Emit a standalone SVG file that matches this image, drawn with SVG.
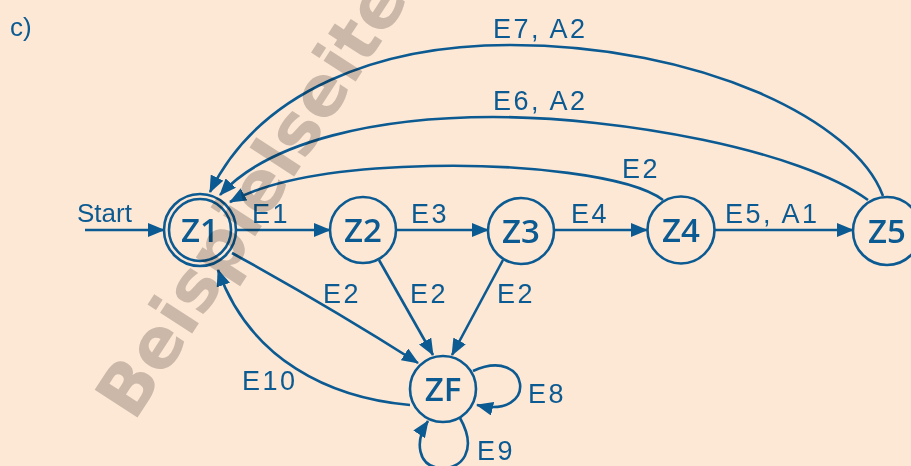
<svg xmlns="http://www.w3.org/2000/svg" width="911" height="466" viewBox="0 0 911 466">
  <defs>
    <marker id="arrow" markerUnits="userSpaceOnUse" markerWidth="18" markerHeight="14" refX="16" refY="7" orient="auto">
      <path d="M0,0 L17,7 L0,14 z" fill="#0b5a92"/>
    </marker>
    <style>
      .node { fill: none; stroke: #0b5a92; stroke-width: 2.6; }
      .nlabel { font-family: "Open Sans", "Liberation Sans", sans-serif; font-size: 33px; font-weight: 600; fill: #0b5a92; text-anchor: middle; }
      .elabel { font-family: "Liberation Sans", Arial, sans-serif; font-size: 27px; letter-spacing: 2.5px; fill: #0b5a92; }
      .plain { font-family: "Liberation Sans", Arial, sans-serif; font-size: 26px; fill: #0b5a92; }
      .edge { fill: none; stroke: #0b5a92; stroke-width: 2.6; marker-end: url(#arrow); }
      .mark { font-family: "DejaVu Sans", sans-serif; font-weight: bold; font-size: 70px; fill: #cecbc9; mix-blend-mode: multiply; }
    </style>
  </defs>

  <rect width="911" height="466" fill="#fde8d6"/>

  <text x="10" y="36" class="plain">c)</text>

  <!-- transitions -->
  <g id="edges">
    <path class="edge" d="M85,230 L164,230"/>
    <path class="edge" d="M237,230 L330,230"/>
    <path class="edge" d="M396,230 L488,230"/>
    <path class="edge" d="M554,230 L647,230"/>
    <path class="edge" d="M715,230 L853,230"/>
    <!-- into the failure state -->
    <path class="edge" d="M232,253 Q330,307 418,363"/>
    <path class="edge" d="M379,260 L433,355"/>
    <path class="edge" d="M503,260 L452,355"/>
    <!-- back to Z1 -->
    <path class="edge" d="M410,405 C330,398 250,360 218,270"/>
    <path class="edge" d="M663,200 C630,175 520,164 430,166 C340,168 270,180 230,202"/>
    <path class="edge" d="M868,200 C800,150 620,117 493,117 C380,117 270,140 220,195"/>
    <path class="edge" d="M883,196 C855,120 700,45 510,45 C380,45 260,90 210,192"/>
    <!-- self loops on ZF -->
    <path class="edge" d="M473,371 C530,345 540,420 477,405"/>
    <path class="edge" d="M460,418 C478,450 462,470 440,468 C418,466 414,442 428,421"/>
  </g>

  <!-- edge labels -->
  <g id="edge-labels">
    <text x="77" y="222" class="plain">Start</text>
    <text x="252" y="223" class="elabel">E1</text>
    <text x="411" y="223" class="elabel">E3</text>
    <text x="571" y="223" class="elabel">E4</text>
    <text x="725" y="223" class="elabel">E5, A1</text>
    <text x="622" y="178" class="elabel">E2</text>
    <text x="493" y="110" class="elabel">E6, A2</text>
    <text x="493" y="38" class="elabel">E7, A2</text>
    <text x="323" y="303" class="elabel">E2</text>
    <text x="410" y="303" class="elabel">E2</text>
    <text x="497" y="303" class="elabel">E2</text>
    <text x="242" y="390" class="elabel">E10</text>
    <text x="528" y="403" class="elabel">E8</text>
    <text x="477" y="460" class="elabel">E9</text>
  </g>

  <g id="Z1">
    <circle class="node" cx="200" cy="230" r="36"/>
    <circle class="node" cx="200" cy="230" r="31"/>
    <text class="nlabel" x="200" y="242">Z1</text>
  </g>
  <g id="Z2">
    <circle class="node" cx="363" cy="230" r="33"/>
    <text class="nlabel" x="363" y="242">Z2</text>
  </g>
  <g id="Z3">
    <circle class="node" cx="521" cy="231" r="33"/>
    <text class="nlabel" x="521" y="243">Z3</text>
  </g>
  <g id="Z4">
    <circle class="node" cx="681" cy="230" r="33.5"/>
    <text class="nlabel" x="681" y="242">Z4</text>
  </g>
  <g id="Z5">
    <circle class="node" cx="887" cy="231" r="34"/>
    <text class="nlabel" x="887" y="243">Z5</text>
  </g>
  <g id="ZF">
    <circle class="node" cx="443" cy="389" r="33"/>
    <text class="nlabel" x="443" y="401">ZF</text>
  </g>

  <!-- sample-page watermark -->
  <text class="mark" transform="translate(134,423) rotate(-57)" x="0" y="0">Beispielseite</text>
</svg>
